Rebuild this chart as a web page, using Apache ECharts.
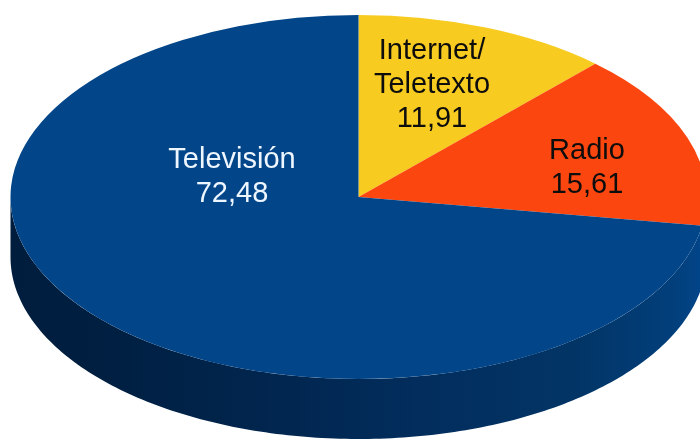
<!DOCTYPE html>
<html>
<head>
<meta charset="utf-8">
<title>Televisión, Radio, Internet/Teletexto</title>
<script src="https://cdn.jsdelivr.net/npm/echarts@6/dist/echarts.min.js"></script>
<style>
  html, body { margin: 0; padding: 0; background: #ffffff; }
  #chart { width: 700px; height: 440px; }
</style>
</head>
<body>
<div id="chart"></div>
<script>
// Audience share by medium, clockwise from twelve o'clock
const categories = ['Internet/\nTeletexto', 'Radio', 'Televisión'];
const values = [11.91, 15.61, 72.48];

// Appearance of each slice; wall stops run from the right of the rim to the left
const faceColors = ['#f7cb20', '#fb470f', '#024589'];
const wallStops = [
  [[0, '#8a7010'], [1, '#8a7010']],
  [[0, '#c43a0c'], [1, '#c43a0c']],
  [[0, '#02458a'], [0.04, '#023f7b'], [0.18, '#023566'], [0.385, '#022e5e'], [0.615, '#01264f'], [0.87, '#001f41'], [1, '#001d3d']]
];
const labelColors = ['#0d0d0d', '#0d0d0d', '#eef6ff'];
const labelCenters = [[432, 85], [587, 168], [232, 177]];

// Tilted disc geometry
const disc = { cx: 358.5, cy: 197, rx: 348, ry: 182, depth: 60 };
const LABEL_SIZE = 29;
const LINE_HEIGHT = 34;

const total = values.reduce((a, b) => a + b, 0);
const TWO_PI = Math.PI * 2;

// Angles run clockwise from the top of the disc
function sliceStart(index) {
  let sum = 0;
  for (let i = 0; i < index; i++) sum += values[i];
  return (sum / total) * TWO_PI;
}

// Outline of the part of a slice's rim that faces the viewer
function wallPoints(from, to) {
  const a = Math.max(from, Math.PI / 2);
  const b = Math.min(to, Math.PI * 1.5);
  if (b <= a) return null;
  const pts = [];
  const steps = Math.max(2, Math.ceil((b - a) * 60));
  const rim = (t, dy) => [
    disc.cx + disc.rx * Math.sin(t),
    disc.cy - disc.ry * Math.cos(t) + dy
  ];
  for (let i = 0; i <= steps; i++) pts.push(rim(a + (b - a) * i / steps, 0));
  for (let i = steps; i >= 0; i--) pts.push(rim(a + (b - a) * i / steps, disc.depth));
  return pts;
}

function formatValue(v) {
  return v.toFixed(2).replace('.', ',');
}

function renderSlice(params, api) {
  const i = params.dataIndex;
  const start = sliceStart(i);
  const end = start + (api.value(0) / total) * TWO_PI;
  const children = [];

  const pts = wallPoints(start, end);
  if (pts) {
    children.push({
      type: 'polygon',
      shape: { points: pts },
      style: {
        fill: new echarts.graphic.LinearGradient(
          1, 0, 0, 0,
          wallStops[i].map(([offset, color]) => ({ offset, color }))
        )
      }
    });
  }

  children.push({
    type: 'sector',
    x: disc.cx,
    y: disc.cy,
    scaleY: disc.ry / disc.rx,
    shape: {
      cx: 0, cy: 0, r0: 0, r: disc.rx,
      startAngle: start - Math.PI / 2,
      endAngle: end - Math.PI / 2,
      clockwise: true
    },
    style: { fill: faceColors[i] }
  });
  return { type: 'group', children };
}

function renderLabel(params, api) {
  const i = params.dataIndex;
  return {
    type: 'text',
    x: labelCenters[i][0],
    y: labelCenters[i][1],
    style: {
      text: categories[i] + '\n' + formatValue(api.value(0)),
      fill: labelColors[i],
      font: LABEL_SIZE + 'px "Liberation Sans", Arial, sans-serif',
      lineHeight: LINE_HEIGHT,
      align: 'center',
      verticalAlign: 'middle'
    }
  };
}

const chart = echarts.init(document.getElementById('chart'), null, { renderer: 'canvas' });
chart.setOption({
  animation: false,
  backgroundColor: '#ffffff',
  series: [
    {
      type: 'custom',
      coordinateSystem: 'none',
      renderItem: renderSlice,
      data: values.map((v, i) => ({ name: categories[i], value: [v] })),
      z: 1
    },
    {
      type: 'custom',
      coordinateSystem: 'none',
      renderItem: renderLabel,
      data: values.map((v, i) => ({ name: categories[i], value: [v] })),
      z: 2,
      silent: true
    }
  ]
});
</script>
</body>
</html>
